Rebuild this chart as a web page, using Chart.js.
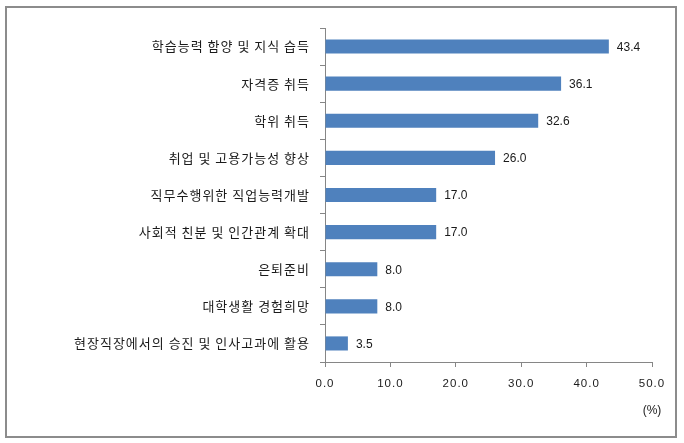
<!DOCTYPE html>
<html>
<head>
<meta charset="utf-8">
<script src="https://cdn.jsdelivr.net/npm/chart.js@4.4.1/dist/chart.umd.min.js"></script>
<style>
  html, body { margin: 0; padding: 0; background: #fff; }
  #wrap { position: relative; width: 684px; height: 443px; }
</style>
</head>
<body>
<div id="wrap"><canvas id="purposeChart" width="684" height="443"></canvas></div>
<script>
// categories and values (%)
const categories = [
  "학습능력 함양 및 지식 습득",
  "자격증 취득",
  "학위 취득",
  "취업 및 고용가능성 향상",
  "직무수행위한 직업능력개발",
  "사회적 친분 및 인간관계 확대",
  "은퇴준비",
  "대학생활 경험희망",
  "현장직장에서의 승진 및 인사고과에 활용"
];
const values = [43.4, 36.1, 32.6, 26.0, 17.0, 17.0, 8.0, 8.0, 3.5];
const axisMax = 50;
const axisStep = 10;
const unitLabel = "(%)";

const labelFont = "'Noto Sans CJK KR', 'Noto Sans', sans-serif";
const numFont = "'Liberation Sans Narrow', 'Liberation Sans', sans-serif";

// frame round the whole picture, and wider letters for the axis labels
const framePlugin = {
  id: "frame",
  beforeDraw(chart) {
    const ctx = chart.ctx;
    ctx.save();
    ctx.strokeStyle = "#8c8c8c";
    ctx.lineWidth = 2;
    ctx.strokeRect(6, 7, 670, 430);
    ctx.restore();
    ctx.letterSpacing = "1px";
  },
  beforeDatasetsDraw(chart) {
    chart.ctx.letterSpacing = "0px";
  }
};

// value at the end of each bar, and the unit under the axis
const valuePlugin = {
  id: "values",
  afterDatasetsDraw(chart) {
    const ctx = chart.ctx;
    const meta = chart.getDatasetMeta(0);
    ctx.save();
    ctx.fillStyle = "#1a1a1a";
    ctx.font = "12px " + numFont;
    ctx.textAlign = "left";
    ctx.textBaseline = "middle";
    meta.data.forEach((bar, i) => {
      ctx.fillText(values[i].toFixed(1), bar.x + 8, bar.y + 1);
    });
    const xs = chart.scales.x;
    ctx.textAlign = "center";
    ctx.fillText(unitLabel, xs.right, xs.bottom - 32);
    ctx.restore();
  }
};

new Chart(document.getElementById("purposeChart"), {
  type: "bar",
  data: {
    labels: categories,
    datasets: [
      {
        data: values,
        backgroundColor: "#4F81BD",
        borderWidth: 0,
        categoryPercentage: 1,
        barPercentage: 0.38
      }
    ]
  },
  options: {
    indexAxis: "y",
    responsive: false,
    animation: false,
    layout: { padding: { left: 0, right: 32, top: 28, bottom: 0 } },
    plugins: {
      legend: { display: false },
      tooltip: { enabled: false }
    },
    scales: {
      x: {
        min: 0,
        max: axisMax,
        ticks: {
          stepSize: axisStep,
          color: "#1a1a1a",
          padding: 10,
          font: { family: numFont, size: 11.5 },
          callback: (v) => Number(v).toFixed(1)
        },
        grid: {
          drawOnChartArea: false,
          tickLength: 5,
          color: "#868686"
        },
        border: { color: "#868686" },
        afterFit(scale) { scale.height = 81; }
      },
      y: {
        ticks: {
          color: "#1a1a1a",
          padding: 10,
          font: { family: labelFont, size: 13 }
        },
        grid: {
          drawOnChartArea: false,
          offset: true,
          tickLength: 5,
          color: "#868686"
        },
        border: { color: "#868686" },
        afterFit(scale) { scale.width = 325; }
      }
    }
  },
  plugins: [framePlugin, valuePlugin]
});
</script>
</body>
</html>
